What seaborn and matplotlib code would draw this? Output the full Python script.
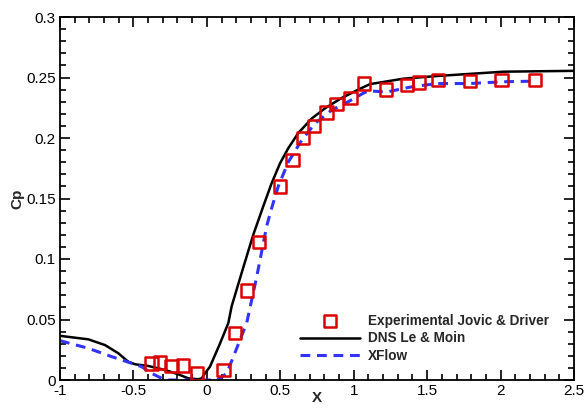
import numpy as np
import pandas as pd
import matplotlib
matplotlib.use("Agg")
import matplotlib.pyplot as plt
import seaborn as sns
from matplotlib.ticker import MultipleLocator

# Experimental Jovic & Driver
exp_x = [-0.376, -0.319, -0.240, -0.161, -0.069, 0.112, 0.191, 0.275, 0.357,
         0.498, 0.584, 0.656, 0.729, 0.816, 0.884, 0.979, 1.072, 1.219,
         1.364, 1.446, 1.575, 1.791, 2.007, 2.234]
exp_y = [0.0138, 0.0143, 0.0116, 0.0121, 0.0055, 0.0083, 0.039, 0.074, 0.114,
         0.160, 0.182, 0.200, 0.210, 0.221, 0.228, 0.233, 0.245, 0.240,
         0.244, 0.246, 0.248, 0.247, 0.248, 0.248]

# DNS Le & Moin
dns_x = [-1.0, -0.9, -0.807, -0.694, -0.603, -0.535, -0.489, -0.399, -0.285,
         -0.195, -0.127, -0.059, -0.035, -0.013, 0.021, 0.089, 0.146, 0.169,
         0.248, 0.316, 0.384, 0.441, 0.498, 0.554, 0.622, 0.713, 0.804, 0.917,
         1.031, 1.11, 1.337, 1.564, 2.02, 2.5]
dns_y = [0.0365, 0.035, 0.0336, 0.0289, 0.0221, 0.0151, 0.0130, 0.0116, 0.0083,
         0.0047, 0.0014, 0.0006, 0.0014, 0.0055, 0.011, 0.030, 0.047, 0.061,
         0.093, 0.120, 0.1435, 0.1626, 0.179, 0.1915, 0.204, 0.216, 0.2245,
         0.233, 0.240, 0.2445, 0.249, 0.2512, 0.2548, 0.2555]

# XFlow
xf_x = [-1.0, -0.807, -0.648, -0.512, -0.444, -0.376, -0.308, -0.26, 0.067,
        0.089, 0.135, 0.180, 0.271, 0.339, 0.407, 0.441, 0.486, 0.554, 0.645,
        0.736, 0.850, 0.963, 1.065, 1.10, 1.224, 1.382, 1.564, 1.79, 2.02, 2.245]
xf_y = [0.0325, 0.0262, 0.0193, 0.0138, 0.011, 0.0055, 0.0014, 0.0, 0.0,
        0.0014, 0.0055, 0.019, 0.047, 0.085, 0.127, 0.142, 0.160, 0.180, 0.198,
        0.212, 0.223, 0.230, 0.237, 0.239, 0.238, 0.242, 0.245, 0.245, 0.2465,
        0.247]

sns.set_style("ticks")
plt.rcParams['font.family'] = ['Liberation Sans', 'DejaVu Sans']

fig = plt.figure(figsize=(5.84, 4.08), dpi=100)
ax = fig.add_axes([60/584, 28/408, 514/584, 363/408])

sns.lineplot(x=dns_x, y=dns_y, ax=ax, color='black', lw=1.8, sort=False,
             label='DNS Le & Moin', zorder=2)
sns.lineplot(x=xf_x, y=xf_y, ax=ax, color='#3333ff', lw=2.2, sort=False,
             label='XFlow', zorder=2)
ax.lines[-1].set_dashes([3.2, 2.2])
sns.scatterplot(x=exp_x, y=exp_y, ax=ax, marker='s', s=80, facecolor='none',
                edgecolor='#dd0000', linewidth=1.8, label='Experimental Jovic & Driver',
                zorder=3)

ax.set_xlim(-1, 2.5)
ax.set_ylim(0, 0.3)
ax.xaxis.set_minor_locator(MultipleLocator(0.1))
ax.yaxis.set_minor_locator(MultipleLocator(0.01))
ax.set_xticks([-1, -0.5, 0, 0.5, 1, 1.5, 2, 2.5])
ax.set_xticklabels(['-1', '-0.5', '0', '0.5', '1', '1.5', '2', '2.5'])
ax.set_yticks([0, 0.05, 0.1, 0.15, 0.2, 0.25, 0.3])
ax.set_yticklabels(['0', '0.05', '0.1', '0.15', '0.2', '0.25', '0.3'])
ax.tick_params(which='both', direction='in', top=True, right=True, width=1.2,
               labelsize=11, pad=3, colors='black')
ax.tick_params(which='major', length=7)
ax.tick_params(which='minor', length=4)
for s in ax.spines.values():
    s.set_linewidth(1.3)
    s.set_color('black')

ax.set_xlabel('X', fontsize=11, fontweight='bold', va='center')
ax.xaxis.set_label_coords(0.5, -0.05)
ax.set_ylabel('Cp', fontsize=11, fontweight='bold', va='center')
ax.yaxis.set_label_coords(-0.082, 0.5)

h, l = ax.get_legend_handles_labels()
order = [2, 0, 1]
leg = ax.legend([h[i] for i in order], [l[i] for i in order],
                loc='upper left', bbox_to_anchor=(0.467, 0.183),
                frameon=False, prop={'weight': 'bold', 'size': 9.8},
                handlelength=4.4, handletextpad=0.6, labelspacing=0.28,
                borderpad=0, borderaxespad=0)

fig.savefig('out.png', dpi=100)
